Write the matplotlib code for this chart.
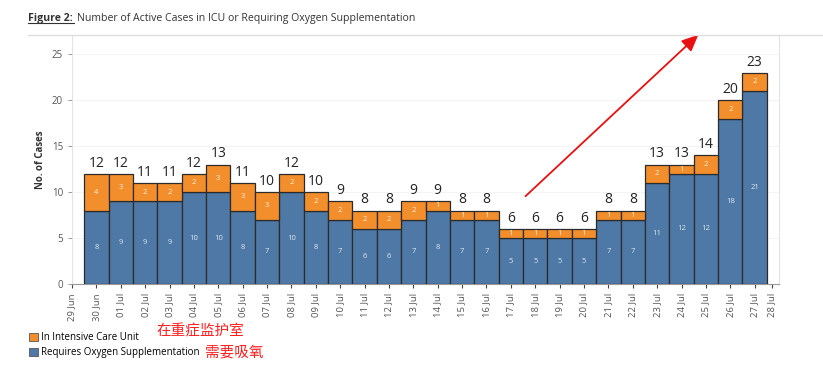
import numpy as np
import matplotlib.pyplot as plt
from matplotlib.patches import FancyArrowPatch
from matplotlib.lines import Line2D
from matplotlib.patches import Patch

# data
dates = ['30 Jun', '01 Jul', '02 Jul', '03 Jul', '04 Jul', '05 Jul', '06 Jul', '07 Jul',
         '08 Jul', '09 Jul', '10 Jul', '11 Jul', '12 Jul', '13 Jul', '14 Jul', '15 Jul',
         '16 Jul', '17 Jul', '18 Jul', '19 Jul', '20 Jul', '21 Jul', '22 Jul', '23 Jul',
         '24 Jul', '25 Jul', '26 Jul', '27 Jul']
oxygen = [8, 9, 9, 9, 10, 10, 8, 7, 10, 8, 7, 6, 6, 7, 8, 7, 7, 5, 5, 5, 5, 7, 7, 11, 12, 12, 18, 21]
icu = [4, 3, 2, 2, 2, 3, 3, 3, 2, 2, 2, 2, 2, 2, 1, 1, 1, 1, 1, 1, 1, 1, 1, 2, 1, 2, 2, 2]

c_icu = '#F28E2B'
c_oxy = '#4E79A7'

plt.rcParams['font.family'] = ['Open Sans', 'DejaVu Sans']

fig = plt.figure(figsize=(8.23, 3.69), dpi=100)
ax = fig.add_axes([0.0875, 0.2304, 0.8591, 0.672])

x = np.arange(len(dates))
oxy = np.array(oxygen)
ic = np.array(icu)
ax.bar(x, oxy, width=1.0, color=c_oxy, edgecolor='#2b2b2b', linewidth=0.9, zorder=3)
ax.bar(x, ic, width=1.0, bottom=oxy, color=c_icu, edgecolor='#2b2b2b', linewidth=0.9, zorder=3)

for i in range(len(x)):
    ax.text(x[i], oxy[i] / 2, str(oxy[i]), ha='center', va='center', fontsize=5.5,
            color='#dfe6ee', zorder=4)
    ax.text(x[i], oxy[i] + ic[i] / 2, str(ic[i]), ha='center', va='center', fontsize=5.5,
            color='#fdf0e2', zorder=4)
    ax.text(x[i], oxy[i] + ic[i] + 0.35, str(oxy[i] + ic[i]), ha='center', va='bottom',
            fontsize=10, color='#222222', zorder=4)

ax.set_xlim(-1, 28)
ax.set_ylim(0, 27)
ax.set_yticks([0, 5, 10, 15, 20, 25])
ax.tick_params(axis='y', labelsize=7, colors='#888888', labelcolor='#555555', length=3, width=0.6)
tick_pos = [-1] + list(x) + [27.7]
tick_lab = ['29 Jun'] + dates + ['28 Jul']
ax.set_xticks(tick_pos)
ax.set_xticklabels(tick_lab, rotation=90, fontsize=6.8, color='#555555')
ax.tick_params(axis='x', length=3, width=0.8, colors='#444444', labelcolor='#555555')
ax.yaxis.grid(True, color='#f2f2f2', linewidth=0.6, zorder=0)
ax.set_axisbelow(True)
for s in ['left', 'right']:
    ax.spines[s].set_color('#e3e3e3')
ax.spines['top'].set_visible(False)
ax.spines['bottom'].set_color('#999999')
ax.set_ylabel('No. of Cases', fontsize=7, fontweight='bold', color='#333333', labelpad=4)

# title
fig.text(0.034, 0.951, 'Figure 2:', fontsize=7.6, fontweight='bold', color='#333333', va='center')
fig.add_artist(Line2D([0.034, 0.0895], [0.937, 0.937], color='#333333', linewidth=0.8))
fig.text(0.094, 0.951, 'Number of Active Cases in ICU or Requiring Oxygen Supplementation',
         fontsize=7.6, color='#333333', va='center')
fig.add_artist(Line2D([0.034, 1.0], [0.906, 0.906], color='#dddddd', linewidth=1))

# legend
handles = [Patch(facecolor=c_icu, edgecolor='#555555', linewidth=0.6, label='In Intensive Care Unit'),
           Patch(facecolor=c_oxy, edgecolor='#555555', linewidth=0.6, label='Requires Oxygen Supplementation')]
fig.legend(handles=handles, loc='upper left', bbox_to_anchor=(0.035, 0.099), frameon=False,
           fontsize=7, handlelength=0.9, handleheight=0.9, handletextpad=0.4,
           labelspacing=0.4, borderaxespad=0, borderpad=0)

# red annotations
fig.text(0.19, 0.103, '在重症监护室', fontsize=10.5, color='#ff2020', va='center',
         family=['Noto Sans CJK SC', 'DejaVu Sans'])
fig.text(0.249, 0.045, '需要吸氧', fontsize=10.5, color='#ff2020', va='center',
         family=['Noto Sans CJK SC', 'DejaVu Sans'])
fig.add_artist(FancyArrowPatch((0.636, 0.463), (0.851, 0.911), transform=fig.transFigure,
                               arrowstyle='-|>,head_length=10,head_width=4.5', color='#e81010',
                               linewidth=1.3, mutation_scale=1))

fig.savefig('out.png', dpi=100)
